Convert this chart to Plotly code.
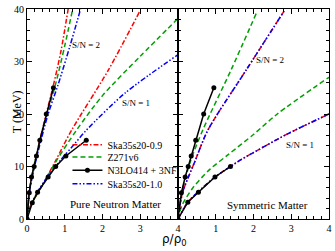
import plotly.graph_objects as go

# ---------------- data (rho/rho0, T in MeV) ----------------
# Pure neutron matter, S/N = 2
pnm2_n3lo_rho = [0, 0.06, 0.12, 0.19, 0.25, 0.34, 0.51, 0.70]
pnm2_n3lo_T = [0, 5, 8, 10, 12, 15, 20, 25]
pnm2_ska09_rho = [0, 0.05, 0.18, 0.34, 0.51, 0.70, 0.90, 1.09]
pnm2_ska09_T = [0, 5, 10, 15, 20, 25.5, 32, 40]
pnm2_z271_rho = [0, 0.06, 0.19, 0.35, 0.53, 0.75, 1.0, 1.21]
pnm2_z271_T = [0, 5, 10, 15, 20, 25.5, 33, 40]
pnm2_ska10_rho = [0, 0.06, 0.20, 0.37, 0.56, 0.82, 1.14, 1.42]
pnm2_ska10_T = [0, 5, 10, 15, 20, 25.5, 33, 40]

# Pure neutron matter, S/N = 1
pnm1_n3lo_rho = [0, 0.14, 0.28, 0.56, 0.76, 1.03, 1.57]
pnm1_n3lo_T = [0, 3.1, 5.1, 8, 10, 12, 15]
pnm1_ska09_rho = [0, 0.08, 0.45, 0.75, 1.18, 2.15, 2.99]
pnm1_ska09_T = [0, 2.3, 7, 11, 16.9, 28.3, 39.6]
pnm1_z271_rho = [0, 0.08, 0.45, 0.77, 1.31, 2.0, 3.0, 4.0]
pnm1_z271_T = [0, 2.3, 6.9, 11, 16.9, 23.5, 31, 38.2]
pnm1_ska10_rho = [0, 0.14, 0.28, 0.56, 0.90, 1.20, 1.57, 2.6, 4.0]
pnm1_ska10_T = [0, 3.2, 5.2, 8.2, 11.3, 13.8, 16.9, 24, 31.3]

# Symmetric matter, S/N = 2
snm2_n3lo_rho = [0, 0.09, 0.19, 0.27, 0.35, 0.47, 0.68, 0.95]
snm2_n3lo_T = [0, 5, 8, 10, 12, 15, 20, 25]
snm2_ska09_rho = [0, 0.12, 0.45, 0.79, 1.8, 2.81]
snm2_ska09_T = [0, 5, 11, 16.9, 28.3, 39.6]
snm2_z271_rho = [0, 0.10, 0.33, 0.66, 1.4, 2.1]
snm2_z271_T = [0, 5, 11, 17, 28.3, 39.6]
snm2_ska10_rho = [0, 0.12, 0.45, 0.79, 1.8, 2.81]
snm2_ska10_T = [0, 5, 11, 16.9, 28.3, 39.6]

# Symmetric matter, S/N = 1
snm1_n3lo_rho = [0, 0.26, 0.54, 0.98, 1.39]
snm1_n3lo_T = [0, 3.2, 5.1, 8, 10]
snm1_ska09_rho = [0, 0.26, 0.54, 0.98, 1.39, 1.67, 2.9, 4.0]
snm1_ska09_T = [0, 3.2, 5.2, 8, 10, 11.3, 16.2, 20]
snm1_z271_rho = [0, 0.10, 0.40, 0.85, 1.32, 2.0, 2.63, 4.0]
snm1_z271_T = [0, 2.5, 6, 9.5, 12.2, 16.1, 20, 27]
snm1_ska10_rho = [0, 0.26, 0.54, 0.98, 1.39, 1.67, 2.9, 4.0]
snm1_ska10_T = [0, 3.2, 5.2, 8, 10, 11.3, 16.2, 20]

names = ["Ska35s20-0.9", "Z271v6", "N3LO414 + 3NF", "Ska35s20-1.0"]
x_ticks = [0, 1, 2, 3, 4]
y_ticks = [0, 10, 20, 30, 40]

RED = "#ff0000"
GREEN = "#00a000"
BLUE = "#0000ff"
styles = {
    "ska09": dict(color=RED, width=1.5, dash="5px,2px,1.5px,2px"),
    "z271": dict(color=GREEN, width=1.5, dash="5px,3px"),
    "ska10": dict(color=BLUE, width=1.5, dash="5px,2px,1.5px,2px,1.5px,2px"),
    "n3lo": dict(color="black", width=1.5),
}
legend_of = {"ska09": "legend", "z271": "legend2", "n3lo": "legend3", "ska10": "legend4"}

fig = go.Figure()

def add_skyrme(x, y, key, name, xa, ya, show):
    fig.add_trace(go.Scatter(
        x=x, y=y, mode="lines", line=dict(**styles[key], shape="spline", smoothing=0.8),
        name=name, legendgroup=key, showlegend=show, xaxis=xa, yaxis=ya,
        legend=legend_of[key]))

def add_n3lo(x, y, xa, ya, show):
    fig.add_trace(go.Scatter(
        x=x, y=y, mode="lines+markers", line=styles["n3lo"],
        marker=dict(color="black", size=5), name=names[2], legendgroup="n3lo",
        showlegend=show, xaxis=xa, yaxis=ya, legend=legend_of["n3lo"]))

# left panel (pure neutron matter)
add_skyrme(pnm2_ska09_rho, pnm2_ska09_T, "ska09", names[0], "x", "y", True)
add_skyrme(pnm1_ska09_rho, pnm1_ska09_T, "ska09", names[0], "x", "y", False)
add_skyrme(pnm2_z271_rho, pnm2_z271_T, "z271", names[1], "x", "y", True)
add_skyrme(pnm1_z271_rho, pnm1_z271_T, "z271", names[1], "x", "y", False)
add_skyrme(pnm2_ska10_rho, pnm2_ska10_T, "ska10", names[3], "x", "y", True)
add_skyrme(pnm1_ska10_rho, pnm1_ska10_T, "ska10", names[3], "x", "y", False)
add_n3lo(pnm2_n3lo_rho, pnm2_n3lo_T, "x", "y", True)
add_n3lo(pnm1_n3lo_rho, pnm1_n3lo_T, "x", "y", False)

# right panel (symmetric matter)
add_skyrme(snm2_z271_rho, snm2_z271_T, "z271", names[1], "x2", "y2", False)
add_skyrme(snm1_z271_rho, snm1_z271_T, "z271", names[1], "x2", "y2", False)
add_skyrme(snm2_ska09_rho, snm2_ska09_T, "ska09", names[0], "x2", "y2", False)
add_skyrme(snm1_ska09_rho, snm1_ska09_T, "ska09", names[0], "x2", "y2", False)
add_skyrme(snm2_ska10_rho, snm2_ska10_T, "ska10", names[3], "x2", "y2", False)
add_skyrme(snm1_ska10_rho, snm1_ska10_T, "ska10", names[3], "x2", "y2", False)
add_n3lo(snm2_n3lo_rho, snm2_n3lo_T, "x2", "y2", False)
add_n3lo(snm1_n3lo_rho, snm1_n3lo_T, "x2", "y2", False)

SERIF = "Liberation Serif"
axis_common = dict(
    range=[0, 4], showline=True, linecolor="black", linewidth=1, mirror="ticks",
    ticks="inside", ticklen=5, tickwidth=1, tickcolor="black",
    minor=dict(dtick=0.2, ticks="inside", ticklen=3, tickcolor="black", tickwidth=1),
    showgrid=False, zeroline=False, tickfont=dict(family=SERIF, size=10, color="black"),
    fixedrange=True, ticklabeloverflow="allow",
)
yaxis_common = dict(
    range=[0, 40], showline=True, linecolor="black", linewidth=1, mirror="ticks",
    ticks="inside", ticklen=5, tickwidth=1, tickcolor="black",
    minor=dict(dtick=2, ticks="inside", ticklen=3, tickcolor="black", tickwidth=1),
    showgrid=False, zeroline=False, tickfont=dict(family=SERIF, size=10, color="black"),
    fixedrange=True, ticklabeloverflow="allow",
)

def legend_at(ypix):
    return dict(x=0.134, y=(219 - ypix) / 215, xanchor="left", yanchor="middle",
                bgcolor="rgba(0,0,0,0)", font=dict(family=SERIF, size=10, color="black"),
                itemwidth=30, borderwidth=0)

fig.update_layout(
    width=335, height=251,
    margin=dict(l=27, r=3, t=4, b=32),
    paper_bgcolor="white", plot_bgcolor="white",
    xaxis=dict(domain=[0, 0.5], anchor="y", tickvals=x_ticks, **axis_common),
    xaxis2=dict(domain=[0.5, 1], anchor="y2", tickvals=x_ticks[1:], **axis_common),
    yaxis=dict(domain=[0, 1], anchor="x", tickvals=y_ticks, **yaxis_common),
    yaxis2=dict(domain=[0, 1], anchor="x2", tickvals=y_ticks, showticklabels=False, **yaxis_common),
    showlegend=True,
    legend=legend_at(143),
    legend2=legend_at(155.5),
    legend3=legend_at(169),
    legend4=legend_at(183),
    annotations=[
        dict(text="T (MeV)", x=-0.062, y=0.51, xref="paper", yref="paper", textangle=-90,
             showarrow=False, font=dict(family=SERIF, size=12, color="black")),
        dict(text="ρ/ρ<sub>0</sub>", x=0.49, y=-0.10, xref="paper", yref="paper",
             yanchor="middle", showarrow=False, font=dict(family="DejaVu Sans", size=12, color="black")),
        dict(text="S/N = 2", x=1.56, y=33.1, xref="x", yref="y", showarrow=False,
             font=dict(family=SERIF, size=9, color="black")),
        dict(text="S/N = 1", x=2.9, y=22.1, xref="x", yref="y", showarrow=False,
             font=dict(family=SERIF, size=9, color="black")),
        dict(text="S/N = 2", x=2.45, y=30.2, xref="x2", yref="y2", showarrow=False,
             font=dict(family=SERIF, size=9, color="black")),
        dict(text="S/N = 1", x=3.24, y=14.1, xref="x2", yref="y2", showarrow=False,
             font=dict(family=SERIF, size=9, color="black")),
        dict(text="Pure Neutron Matter", x=2.34, y=2.9, xref="x", yref="y", showarrow=False,
             font=dict(family=SERIF, size=11, color="black")),
        dict(text="Symmetric Matter", x=2.37, y=2.6, xref="x2", yref="y2", showarrow=False,
             font=dict(family=SERIF, size=11, color="black")),
    ],
)

fig.write_html("out.html", config={"displayModeBar": False},
               post_script="document.body.style.margin='0';document.body.style.padding='0';")
